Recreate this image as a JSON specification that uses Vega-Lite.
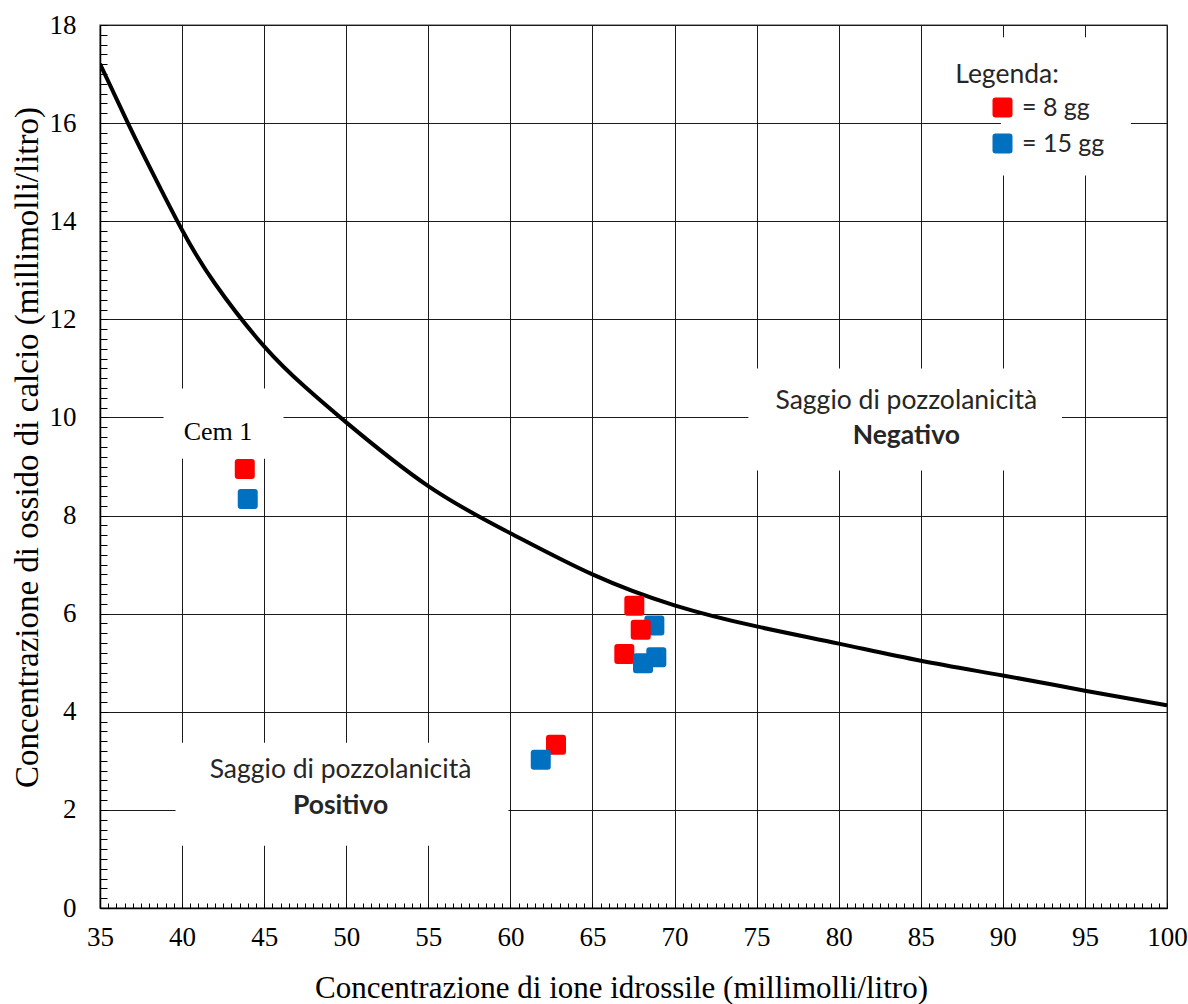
{
  "$schema": "https://vega.github.io/schema/vega-lite/v6.json",
  "width": 1067,
  "height": 883,
  "autosize": {"type": "none"},
  "padding": {"left": 100, "top": 25, "right": 21, "bottom": 96},
  "background": "white",
  "config": {
    "view": {"stroke": "#808080", "strokeWidth": 1.5}
  },
  "encoding": {
    "x": {
      "field": "x", "type": "quantitative",
      "scale": {"domain": [35, 100], "nice": false, "zero": false},
      "axis": {
        "values": [35,35.5,36,36.5,37,37.5,38,38.5,39,39.5,40,40.5,41,41.5,42,42.5,43,43.5,44,44.5,45,45.5,46,46.5,47,47.5,48,48.5,49,49.5,50,50.5,51,51.5,52,52.5,53,53.5,54,54.5,55,55.5,56,56.5,57,57.5,58,58.5,59,59.5,60,60.5,61,61.5,62,62.5,63,63.5,64,64.5,65,65.5,66,66.5,67,67.5,68,68.5,69,69.5,70,70.5,71,71.5,72,72.5,73,73.5,74,74.5,75,75.5,76,76.5,77,77.5,78,78.5,79,79.5,80,80.5,81,81.5,82,82.5,83,83.5,84,84.5,85,85.5,86,86.5,87,87.5,88,88.5,89,89.5,90,90.5,91,91.5,92,92.5,93,93.5,94,94.5,95,95.5,96,96.5,97,97.5,98,98.5,99,99.5,100],
        "labelExpr": "datum.value % 5 === 0 ? format(datum.value, 'd') : ''",
        "labelOverlap": false,
        "labelFlush": false,
        "grid": true,
        "gridColor": "#1a1a1a",
        "gridWidth": 1,
        "gridOpacity": {"condition": {"test": "datum.value % 5 === 0", "value": 1}, "value": 0},
        "ticks": true,
        "tickSize": -5,
        "tickColor": "#000000",
        "tickWidth": 1,
        "domainColor": "#000000",
        "domainWidth": 1.5,
        "labelFont": "Liberation Serif",
        "labelFontSize": 27,
        "labelColor": "#000000",
        "labelPadding": 21,
        "title": "Concentrazione di ione idrossile (millimolli/litro)",
        "titleFont": "Liberation Serif",
        "titleFontSize": 31,
        "titleFontWeight": "normal",
        "titleColor": "#000000",
        "titleX": 521,
        "titleY": 89,
        "titleAlign": "center",
        "titleBaseline": "alphabetic"
      }
    },
    "y": {
      "field": "y", "type": "quantitative",
      "scale": {"domain": [0, 18], "nice": false, "zero": false},
      "axis": {
        "values": [0,0.2,0.4,0.6,0.8,1,1.2,1.4,1.6,1.8,2,2.2,2.4,2.6,2.8,3,3.2,3.4,3.6,3.8,4,4.2,4.4,4.6,4.8,5,5.2,5.4,5.6,5.8,6,6.2,6.4,6.6,6.8,7,7.2,7.4,7.6,7.8,8,8.2,8.4,8.6,8.8,9,9.2,9.4,9.6,9.8,10,10.2,10.4,10.6,10.8,11,11.2,11.4,11.6,11.8,12,12.2,12.4,12.6,12.8,13,13.2,13.4,13.6,13.8,14,14.2,14.4,14.6,14.8,15,15.2,15.4,15.6,15.8,16,16.2,16.4,16.6,16.8,17,17.2,17.4,17.6,17.8,18],
        "labelExpr": "datum.value % 2 === 0 ? format(datum.value, 'd') : ''",
        "labelOverlap": false,
        "labelFlush": false,
        "grid": true,
        "gridColor": "#1a1a1a",
        "gridWidth": 1,
        "gridOpacity": {"condition": {"test": "datum.value % 2 === 0", "value": 1}, "value": 0},
        "ticks": true,
        "tickSize": -7,
        "tickColor": "#000000",
        "tickWidth": 1,
        "domainColor": "#000000",
        "domainWidth": 1.5,
        "labelFont": "Liberation Serif",
        "labelFontSize": 27,
        "labelColor": "#000000",
        "labelPadding": 31,
        "title": "Concentrazione di ossido di calcio (millimolli/litro)",
        "titleFont": "Liberation Serif",
        "titleFontSize": 33,
        "titleFontWeight": "normal",
        "titleColor": "#000000",
        "titleX": -73,
        "titleY": 422,
        "titleAlign": "center",
        "titleBaseline": "middle",
        "titleAngle": -90
      }
    }
  },
  "layer": [
    {
      "data": {"values": [
        {"box": "Cem 1", "x": 38.87, "x2": 46.18, "y": 10.59, "y2": 9.16},
        {"box": "Positivo", "x": 39.6, "x2": 59.88, "y": 3.37, "y2": 1.27},
        {"box": "Negativo", "x": 74.5, "x2": 93.6, "y": 11.0, "y2": 8.92},
        {"box": "Legenda", "x": 89.88, "x2": 97.8, "y": 17.75, "y2": 14.93}
      ]},
      "mark": {"type": "rect", "fill": "white", "strokeWidth": 0},
      "encoding": {"x2": {"field": "x2"}, "y2": {"field": "y2"}}
    },
    {
      "data": {"values": [
        {"x": 35, "y": 17.21},
        {"x": 36.7, "y": 16.0},
        {"x": 38.18, "y": 15.0},
        {"x": 40, "y": 13.82},
        {"x": 42, "y": 12.73},
        {"x": 45, "y": 11.45},
        {"x": 47.5, "y": 10.62},
        {"x": 50, "y": 9.9},
        {"x": 55, "y": 8.6},
        {"x": 60, "y": 7.64},
        {"x": 65, "y": 6.8},
        {"x": 70, "y": 6.17},
        {"x": 75, "y": 5.74},
        {"x": 80, "y": 5.39},
        {"x": 85, "y": 5.04},
        {"x": 90, "y": 4.74},
        {"x": 95, "y": 4.43},
        {"x": 100, "y": 4.13}
      ]},
      "mark": {"type": "line", "color": "#000000", "strokeWidth": 4, "interpolate": "natural", "clip": true},
      "encoding": {}
    },
    {
      "data": {"values": [
        {"serie": "8 gg", "x": 43.82, "y": 8.95},
        {"serie": "15 gg", "x": 44.0, "y": 8.34},
        {"serie": "8 gg", "x": 67.55, "y": 6.16},
        {"serie": "15 gg", "x": 68.77, "y": 5.76},
        {"serie": "8 gg", "x": 67.94, "y": 5.67},
        {"serie": "8 gg", "x": 66.94, "y": 5.18},
        {"serie": "15 gg", "x": 68.89, "y": 5.11},
        {"serie": "15 gg", "x": 68.08, "y": 4.99},
        {"serie": "8 gg", "x": 62.78, "y": 3.33},
        {"serie": "15 gg", "x": 61.85, "y": 3.02}
      ]},
      "mark": {
        "type": "point", "filled": true, "opacity": 1, "size": 400, "strokeWidth": 0,
        "shape": "M-0.7,-1H0.7Q1,-1,1,-0.7V0.7Q1,1,0.7,1H-0.7Q-1,1,-1,0.7V-0.7Q-1,-1,-0.7,-1Z"
      },
      "encoding": {
        "color": {
          "field": "serie", "type": "nominal",
          "scale": {"domain": ["8 gg", "15 gg"], "range": ["#FF0000", "#0070C0"]},
          "legend": {
            "orient": "none",
            "legendX": 890,
            "legendY": 70,
            "title": null,
            "padding": 0,
            "symbolType": "M-0.7,-1H0.7Q1,-1,1,-0.7V0.7Q1,1,0.7,1H-0.7Q-1,1,-1,0.7V-0.7Q-1,-1,-0.7,-1Z",
            "symbolSize": 400,
            "symbolStrokeWidth": 0,
            "symbolOpacity": 1,
            "labelExpr": "'= ' + datum.label",
            "labelFont": "Lato",
            "labelFontSize": 25,
            "labelColor": "#262626",
            "labelOffset": 7,
            "rowPadding": 10
          }
        }
      }
    },
    {
      "data": {"values": [
        {"x": 49.65, "y": 2.64, "t": "Saggio di pozzolanicità"},
        {"x": 84.12, "y": 10.18, "t": "Saggio di pozzolanicità"}
      ]},
      "mark": {"type": "text", "font": "Lato", "fontSize": 26.5, "color": "#262626", "align": "center", "baseline": "alphabetic"},
      "encoding": {"text": {"field": "t"}}
    },
    {
      "data": {"values": [
        {"x": 49.65, "y": 1.92, "t": "Positivo"},
        {"x": 84.12, "y": 9.46, "t": "Negativo"}
      ]},
      "mark": {"type": "text", "font": "Lato", "fontSize": 26.5, "fontWeight": "bold", "color": "#262626", "align": "center", "baseline": "alphabetic"},
      "encoding": {"text": {"field": "t"}}
    },
    {
      "data": {"values": [
        {"x": 87.1, "y": 16.81, "t": "Legenda:"}
      ]},
      "mark": {"type": "text", "font": "Lato", "fontSize": 26.5, "color": "#262626", "align": "left", "baseline": "alphabetic"},
      "encoding": {"text": {"field": "t"}}
    },
    {
      "data": {"values": [
        {"x": 42.19, "y": 9.55, "t": "Cem 1"}
      ]},
      "mark": {"type": "text", "font": "Liberation Serif", "fontSize": 26, "color": "#000000", "align": "center", "baseline": "alphabetic"},
      "encoding": {"text": {"field": "t"}}
    }
  ]
}
